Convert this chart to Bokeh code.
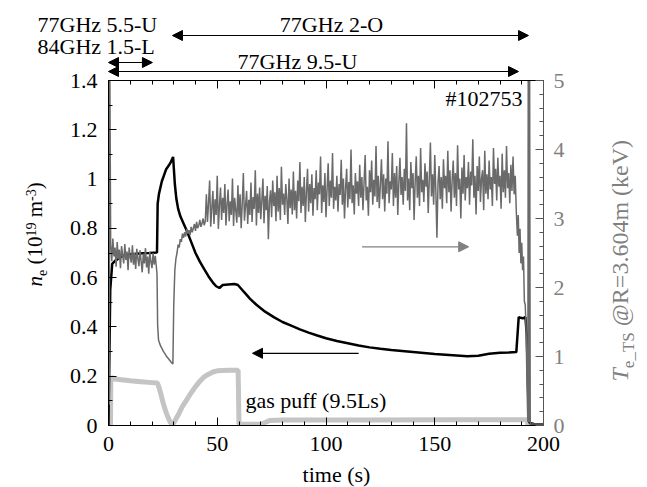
import math
import numpy as np
from bokeh.plotting import figure
from bokeh.models import (Range1d, LinearAxis, FixedTicker, CustomJSTickFormatter,
                          Label, Arrow, NormalHead, GridBox)
from bokeh.embed import file_html
from bokeh.resources import INLINE

# ---------------- data ----------------
# electron density n_e (10^19 m^-3), left axis
ne_t = [0, 0.8, 1.7, 3, 5, 7, 10, 13, 16, 19, 22.3, 22.6, 23.2, 24.5, 25.5, 26.5,
        27.7, 28.7, 29.7, 30.5, 31.2, 32, 33, 34.5, 36, 38, 40, 42, 44, 46, 48, 49.5,
        51, 52.5, 55, 58, 59.5, 61, 63, 65, 68, 72, 76, 80, 84, 88, 92, 96, 100, 105,
        110, 115, 120, 125, 130, 135, 140, 145, 150, 155, 160, 165, 170, 175, 180,
        184, 187.5, 188.6, 189.4, 190.5, 191.7, 192.3, 193.0, 193.6, 196, 200]
ne_val = [0.0, 0.55, 0.656, 0.668, 0.68, 0.69, 0.695, 0.697, 0.699, 0.70, 0.702, 0.9,
          0.94, 0.99, 1.015, 1.04, 1.055, 1.07, 1.09, 0.98, 0.92, 0.88, 0.85, 0.82, 0.79,
          0.745, 0.70, 0.665, 0.635, 0.605, 0.58, 0.565, 0.558, 0.57, 0.572, 0.574, 0.57,
          0.555, 0.535, 0.515, 0.49, 0.462, 0.44, 0.42, 0.405, 0.39, 0.377, 0.365, 0.354,
          0.343, 0.334, 0.325, 0.317, 0.311, 0.306, 0.302, 0.298, 0.294, 0.29, 0.287,
          0.284, 0.281, 0.283, 0.291, 0.295, 0.296, 0.298, 0.44, 0.437, 0.435, 0.44, 0.37,
          0.12, 0.01, 0.005, 0.005]

# electron temperature T_e (keV), right axis
te_start_t = [0, 0.15, 0.35, 0.55]
te_start_v = [0.0, 5.6, 0.3, 5.6]
te_seg_a = [2.62, 2.38, 2.71, 2.45, 2.58, 2.30, 2.66, 2.41, 2.55, 2.28,
            2.60, 2.47, 2.35, 2.63, 2.40, 2.52, 2.25, 2.58, 2.44, 2.36,
            2.61, 2.33, 2.50, 2.27, 2.56, 2.42, 2.31, 2.54, 2.38, 2.22,
            2.49, 2.35, 2.57, 2.29, 2.45, 2.20, 2.52, 2.37, 2.28, 2.50,
            2.33, 2.46, 2.30]                       # t = 1.0 ... 22.0
te_seg_b_t = [22.3, 22.6, 23.0, 23.5, 24, 24.5, 25, 25.5, 26, 26.5, 27, 27.5, 28,
              28.5, 29, 29.6, 30.0]
te_seg_b = [2.2, 1.45, 1.24, 1.19, 1.15, 1.12, 1.09, 1.06, 1.04, 1.01, 0.99, 0.97,
            0.95, 0.93, 0.91, 0.89, 1.75]
te_seg_c = [2.25, 2.42, 2.50, 2.62, 2.58, 2.70, 2.66, 2.78, 2.72, 2.80,
            2.74, 2.85, 2.78, 2.83, 2.76, 2.88, 2.80, 2.86, 2.92, 2.82,
            2.95, 2.86, 2.90, 2.98, 2.88, 2.93, 3.00, 2.90, 2.96]   # t = 30.5 ... 44.5
te_seg_d = [3.35, 2.95, 3.22, 3.55, 2.88, 3.15, 3.40, 2.92, 3.28, 3.05, 3.62, 2.85, 3.18, 3.45, 2.98, 3.30, 3.08, 3.50, 2.90, 3.20,
            3.42, 2.96, 3.25, 3.05, 3.58, 2.89, 3.30, 3.12, 2.94, 3.48, 3.02, 3.35, 2.86, 3.22, 3.66, 2.97, 3.18, 3.40, 2.92, 3.27,
            3.05, 3.52, 2.95, 3.31, 3.14, 3.70, 2.90, 3.36, 3.08, 3.45, 2.99, 3.26, 3.58, 2.93, 3.33, 3.12, 3.47, 2.70, 3.24, 3.41,
            3.02, 3.55, 3.18, 3.38, 2.96, 3.62, 3.10, 3.44, 2.98, 3.75, 3.20, 3.36, 3.05, 3.50, 3.28, 2.92, 3.58, 3.15, 3.42, 3.06,
            3.68, 3.12, 3.40, 3.00, 3.55, 3.25, 3.82, 3.08, 3.46, 3.18, 3.60, 2.95, 3.38, 3.72, 3.10, 3.50, 3.22, 3.64, 3.04, 3.44,
            3.28, 3.70, 3.12, 3.52, 3.35, 3.90, 3.08, 3.48, 3.24, 3.66, 3.02, 3.42, 3.80, 3.18, 3.55, 3.30, 3.95, 3.14, 3.46, 3.26,
            3.62, 3.10, 3.50, 3.34, 3.85, 3.20, 3.58, 3.00, 3.44, 3.72, 3.16, 3.53, 3.28, 4.00, 3.22, 3.48, 3.06, 3.66, 3.36, 3.54,
            3.18, 3.78, 3.30, 3.60, 3.12, 3.52, 3.92, 3.26, 3.46, 3.04, 3.70, 3.38, 3.84, 3.20, 3.56, 3.32, 4.05, 3.24, 3.62, 3.15,
            3.50, 3.86, 3.28, 3.64, 3.10, 3.58, 3.36, 4.12, 3.22, 3.54, 3.42, 3.95, 3.18, 3.66, 3.30, 3.76, 3.05, 3.52, 3.88, 3.34,
            3.60, 3.20, 3.72, 3.40, 4.38, 3.26, 3.58, 3.12, 3.82, 3.44, 3.66, 2.98, 3.54, 3.90, 3.30, 3.62, 3.18, 4.02, 3.38, 3.56,
            3.24, 3.80, 3.46, 3.68, 3.08, 3.58, 4.10, 3.32, 3.64, 3.20, 3.92, 3.40, 2.72, 3.52, 3.76, 3.28, 3.60, 3.14, 3.86, 3.44,
            3.62, 3.22, 3.98, 3.38, 3.70, 3.10, 3.56, 3.84, 3.30, 3.66, 3.18, 4.06, 3.42, 3.58, 3.00, 3.74, 3.36, 3.92, 3.26, 3.60,
            3.44, 3.82, 3.20, 3.68, 3.48, 4.15, 3.30, 3.62, 3.06, 3.76, 3.40, 3.90, 3.24, 3.58, 3.70, 3.12, 3.98, 3.36, 3.64, 3.28,
            3.84, 3.42, 3.60, 3.18, 4.02, 3.50, 3.72, 3.26, 3.88, 3.46, 3.62, 3.14, 3.94, 3.38, 3.70, 3.30, 4.05, 3.44, 3.66, 3.22,
            3.78, 3.40, 3.90, 3.35, 3.62, 3.10]     # t = 45.0 ... 187.5
te_end_t = [188.0, 188.4, 188.8, 189.2, 189.6, 190.0, 190.4, 190.8, 191.2, 191.6,
            192.0, 192.4, 192.8, 193.0, 193.3, 193.6, 193.9, 200]
te_end_v = [2.75, 3.05, 2.5, 2.85, 2.35, 2.65, 2.25, 2.45, 1.8, 1.75,
            1.4, 0.6, 0.05, 5.6, 0.05, 5.6, 0.02, 0.02]

# gas puff (9.5Ls), plotted on the left axis scale
gas_t = [0, 0.9, 1.1, 1.6, 5, 10, 15, 20, 22.5, 23.2, 24, 25, 26.2, 27.5, 28.5, 29.3,
         30.3, 31.3, 32.3, 34, 36, 37.7, 40, 42, 43.8, 46, 48, 50, 55, 59.6, 60.0, 66,
         70, 72, 74, 80, 120, 160, 192.6, 192.8, 200]
gas_val = [0, 0, 0.2, 0.19, 0.187, 0.182, 0.178, 0.174, 0.172, 0.155, 0.13, 0.095,
           0.06, 0.03, 0.012, 0.003, 0.015, 0.032, 0.047, 0.078, 0.105, 0.129, 0.158,
           0.18, 0.196, 0.208, 0.217, 0.222, 0.224, 0.224, 0.005, 0.005, 0.005, 0.012,
           0.02, 0.022, 0.022, 0.023, 0.023, 0.0, 0.0]

# heating periods (s) shown with arrows above the frame
ech_2o = [29.4, 193.1]
ech_15l = [0, 20.2]
ech_95u = [0, 188.5]

x_ticks = [0, 50, 100, 150, 200]
x_minor = [0, 10, 20, 30, 40, 50, 60, 70, 80, 90, 100, 110, 120, 130, 140, 150, 160,
           170, 180, 190, 200]
ne_ticks = [0, 0.2, 0.4, 0.6, 0.8, 1, 1.2, 1.4]
ne_minor = [0, 0.1, 0.2, 0.3, 0.4, 0.5, 0.6, 0.7, 0.8, 0.9, 1.0, 1.1, 1.2, 1.3, 1.4]
te_ticks = [0, 1, 2, 3, 4, 5]
te_minor = [0, 0.2, 0.4, 0.6, 0.8, 1, 1.2, 1.4, 1.6, 1.8, 2, 2.2, 2.4, 2.6, 2.8, 3,
            3.2, 3.4, 3.6, 3.8, 4, 4.2, 4.4, 4.6, 4.8, 5]

te_t = (te_start_t + list(np.linspace(1.0, 22.0, len(te_seg_a))) + te_seg_b_t
        + list(np.linspace(30.5, 44.5, len(te_seg_c)))
        + list(np.linspace(45.0, 187.5, len(te_seg_d))) + te_end_t)
te_val = te_start_v + te_seg_a + te_seg_b + te_seg_c + te_seg_d + te_end_v

# ---------------- geometry (page pixels) ----------------
FONT = "Liberation Serif"
PW, PH = 647, 487
X0, X1 = 108, 543   # frame left/right
Y0, Y1 = 80, 425    # frame top/bottom
MID = 0.3375        # em-box middle above the baseline, in em

def t_to_px(t):
    return X0 + t * (X1 - X0) / 200.0

# ---------------- main figure ----------------
p = figure(width=PW, height=PH, x_range=Range1d(0, 200), y_range=Range1d(0, 1.4),
           output_backend="svg", toolbar_location=None, title=None,
           min_border_left=X0, min_border_right=PW - X1,
           min_border_top=Y0, min_border_bottom=PH - Y1)
p.extra_y_ranges = {"te": Range1d(0, 5)}
p.grid.visible = False
p.outline_line_color = "black"
p.outline_line_width = 1
p.background_fill_color = "white"
p.border_fill_color = "white"

def style_axis(ax, color="black", label_color="black"):
    ax.major_tick_in = 8
    ax.major_tick_out = 0
    ax.minor_tick_in = 4
    ax.minor_tick_out = 0
    ax.axis_line_color = color
    ax.major_tick_line_color = color
    ax.minor_tick_line_color = color
    ax.major_label_text_font = FONT
    ax.major_label_text_font_size = "22px"
    ax.major_label_text_color = label_color

xa = p.xaxis[0]
xa.ticker = FixedTicker(ticks=x_ticks, minor_ticks=x_minor)
style_axis(xa)
xa.major_label_standoff = 11

ya = p.yaxis[0]
ya.ticker = FixedTicker(ticks=ne_ticks, minor_ticks=ne_minor)
ya.formatter = CustomJSTickFormatter(code="return String(tick);")
style_axis(ya)
ya.major_label_standoff = 11

top = LinearAxis(ticker=FixedTicker(ticks=x_ticks, minor_ticks=x_minor))
style_axis(top)
top.formatter = CustomJSTickFormatter(code="return '';")
top.major_label_standoff = 0
p.add_layout(top, "above")

ra = LinearAxis(y_range_name="te", ticker=FixedTicker(ticks=te_ticks, minor_ticks=te_minor))
style_axis(ra, color="#555555", label_color="#808080")
ra.major_label_standoff = 10
p.add_layout(ra, "right")

p.line(gas_t, gas_val, line_color="#c4c4c4", line_width=5)
p.line(ne_t, ne_val, line_color="black", line_width=2.5)
p.line(te_t, te_val, line_color="#6a6a6a", line_width=1.5, y_range_name="te")

def head(color):
    return NormalHead(size=10, fill_color=color, line_color=color)

p.add_layout(Arrow(x_start=115, y_start=0.293, x_end=66.2, y_end=0.293,
                   end=head("black"), line_width=1.3))
p.add_layout(Arrow(x_start=116.6, y_start=2.59, x_end=165.6, y_end=2.59,
                   end=head("#808080"), line_color="#808080", line_width=1.3,
                   y_range_name="te"))

# ---------------- transparent overlay for texts outside the frame ----------------
ov = figure(width=PW, height=PH, x_range=Range1d(0, PW), y_range=Range1d(PH, 0),
            x_axis_type=None, y_axis_type=None, min_border=0, toolbar_location=None,
            output_backend="svg", title=None)
try:
    ov.frame_align = False
except Exception:
    pass
ov.outline_line_color = None
ov.grid.visible = False
ov.background_fill_alpha = 0
ov.border_fill_alpha = 0

def text(x, base_y, s, align="left", size=22, color="black", style="normal"):
    ov.add_layout(Label(x=x, y=base_y - MID * size, text=s, text_font=FONT,
                        text_font_size=f"{size}px", text_font_style=style,
                        text_color=color, text_align=align, text_baseline="middle"))

text(37, 31, "77GHz 5.5-U")
text(37, 53, "84GHz 1.5-L")
text(331, 31, "77GHz 2-O", align="center")
text(297, 68, "77GHz 9.5-U", align="center")
text(522, 105, "#102753", align="right")
text(245, 407, "gas puff (9.5Ls)")
text(336, 481, "time (s)", align="center")

for (ta, tb), yy in ((ech_2o, 35), (ech_15l, 62), (ech_95u, 71)):
    ov.add_layout(Arrow(x_start=t_to_px(ta), y_start=yy, x_end=t_to_px(tb), y_end=yy,
                        start=head("black"), end=head("black"), line_width=1.2))

# rotated rich-text axis titles (pieces centred so rotation cannot misalign them)
CW = {' ': 0.25, '(': 0.333, ')': 0.333, '-': 0.333, 'm': 0.778, 'e': 0.444,
      '_': 0.5, 'T': 0.611, 'S': 0.556, '@': 0.921, 'R': 0.667, '=': 0.564,
      '.': 0.25, 'k': 0.5, 'V': 0.722, 'n': 0.5}
for d in "0123456789":
    CW[d] = 0.5
CWI = {'n': 0.5, 'T': 0.556}

def rotated(pieces, base_px, start_py, color):
    y = start_py
    for s, size, italic, shift, gap in pieces:
        y -= gap * size
        table = CWI if italic else CW
        w = sum(table.get(c, CW.get(c, 0.5)) for c in s) * size
        ov.add_layout(Label(x=base_px + shift - MID * size, y=y - w / 2, text=s,
                            angle=math.pi / 2, text_font=FONT,
                            text_font_size=f"{size}px",
                            text_font_style="italic" if italic else "normal",
                            text_color=color, text_align="center",
                            text_baseline="middle"))
        y -= w

rotated([("n", 21, True, 0, 0), ("e", 14, False, 4, 0), ("(10", 21, False, 0, 0.25),
         ("19", 14, False, -7, 0), ("m", 21, False, 0, 0.25), ("-3", 14, False, -7, 0),
         (")", 21, False, 0, 0)], 42, 286, "black")
rotated([("T", 24, True, 0, 0), ("e_TS", 17, False, 6, 0),
         ("@R=3.604m", 24, False, 0, 0.25), ("(keV)", 24, False, 0, 0.25)],
        628, 381, "#808080")

layout = GridBox(children=[(p, 0, 0), (ov, 0, 0)])
open("out.html", "w").write(file_html(layout, INLINE))
